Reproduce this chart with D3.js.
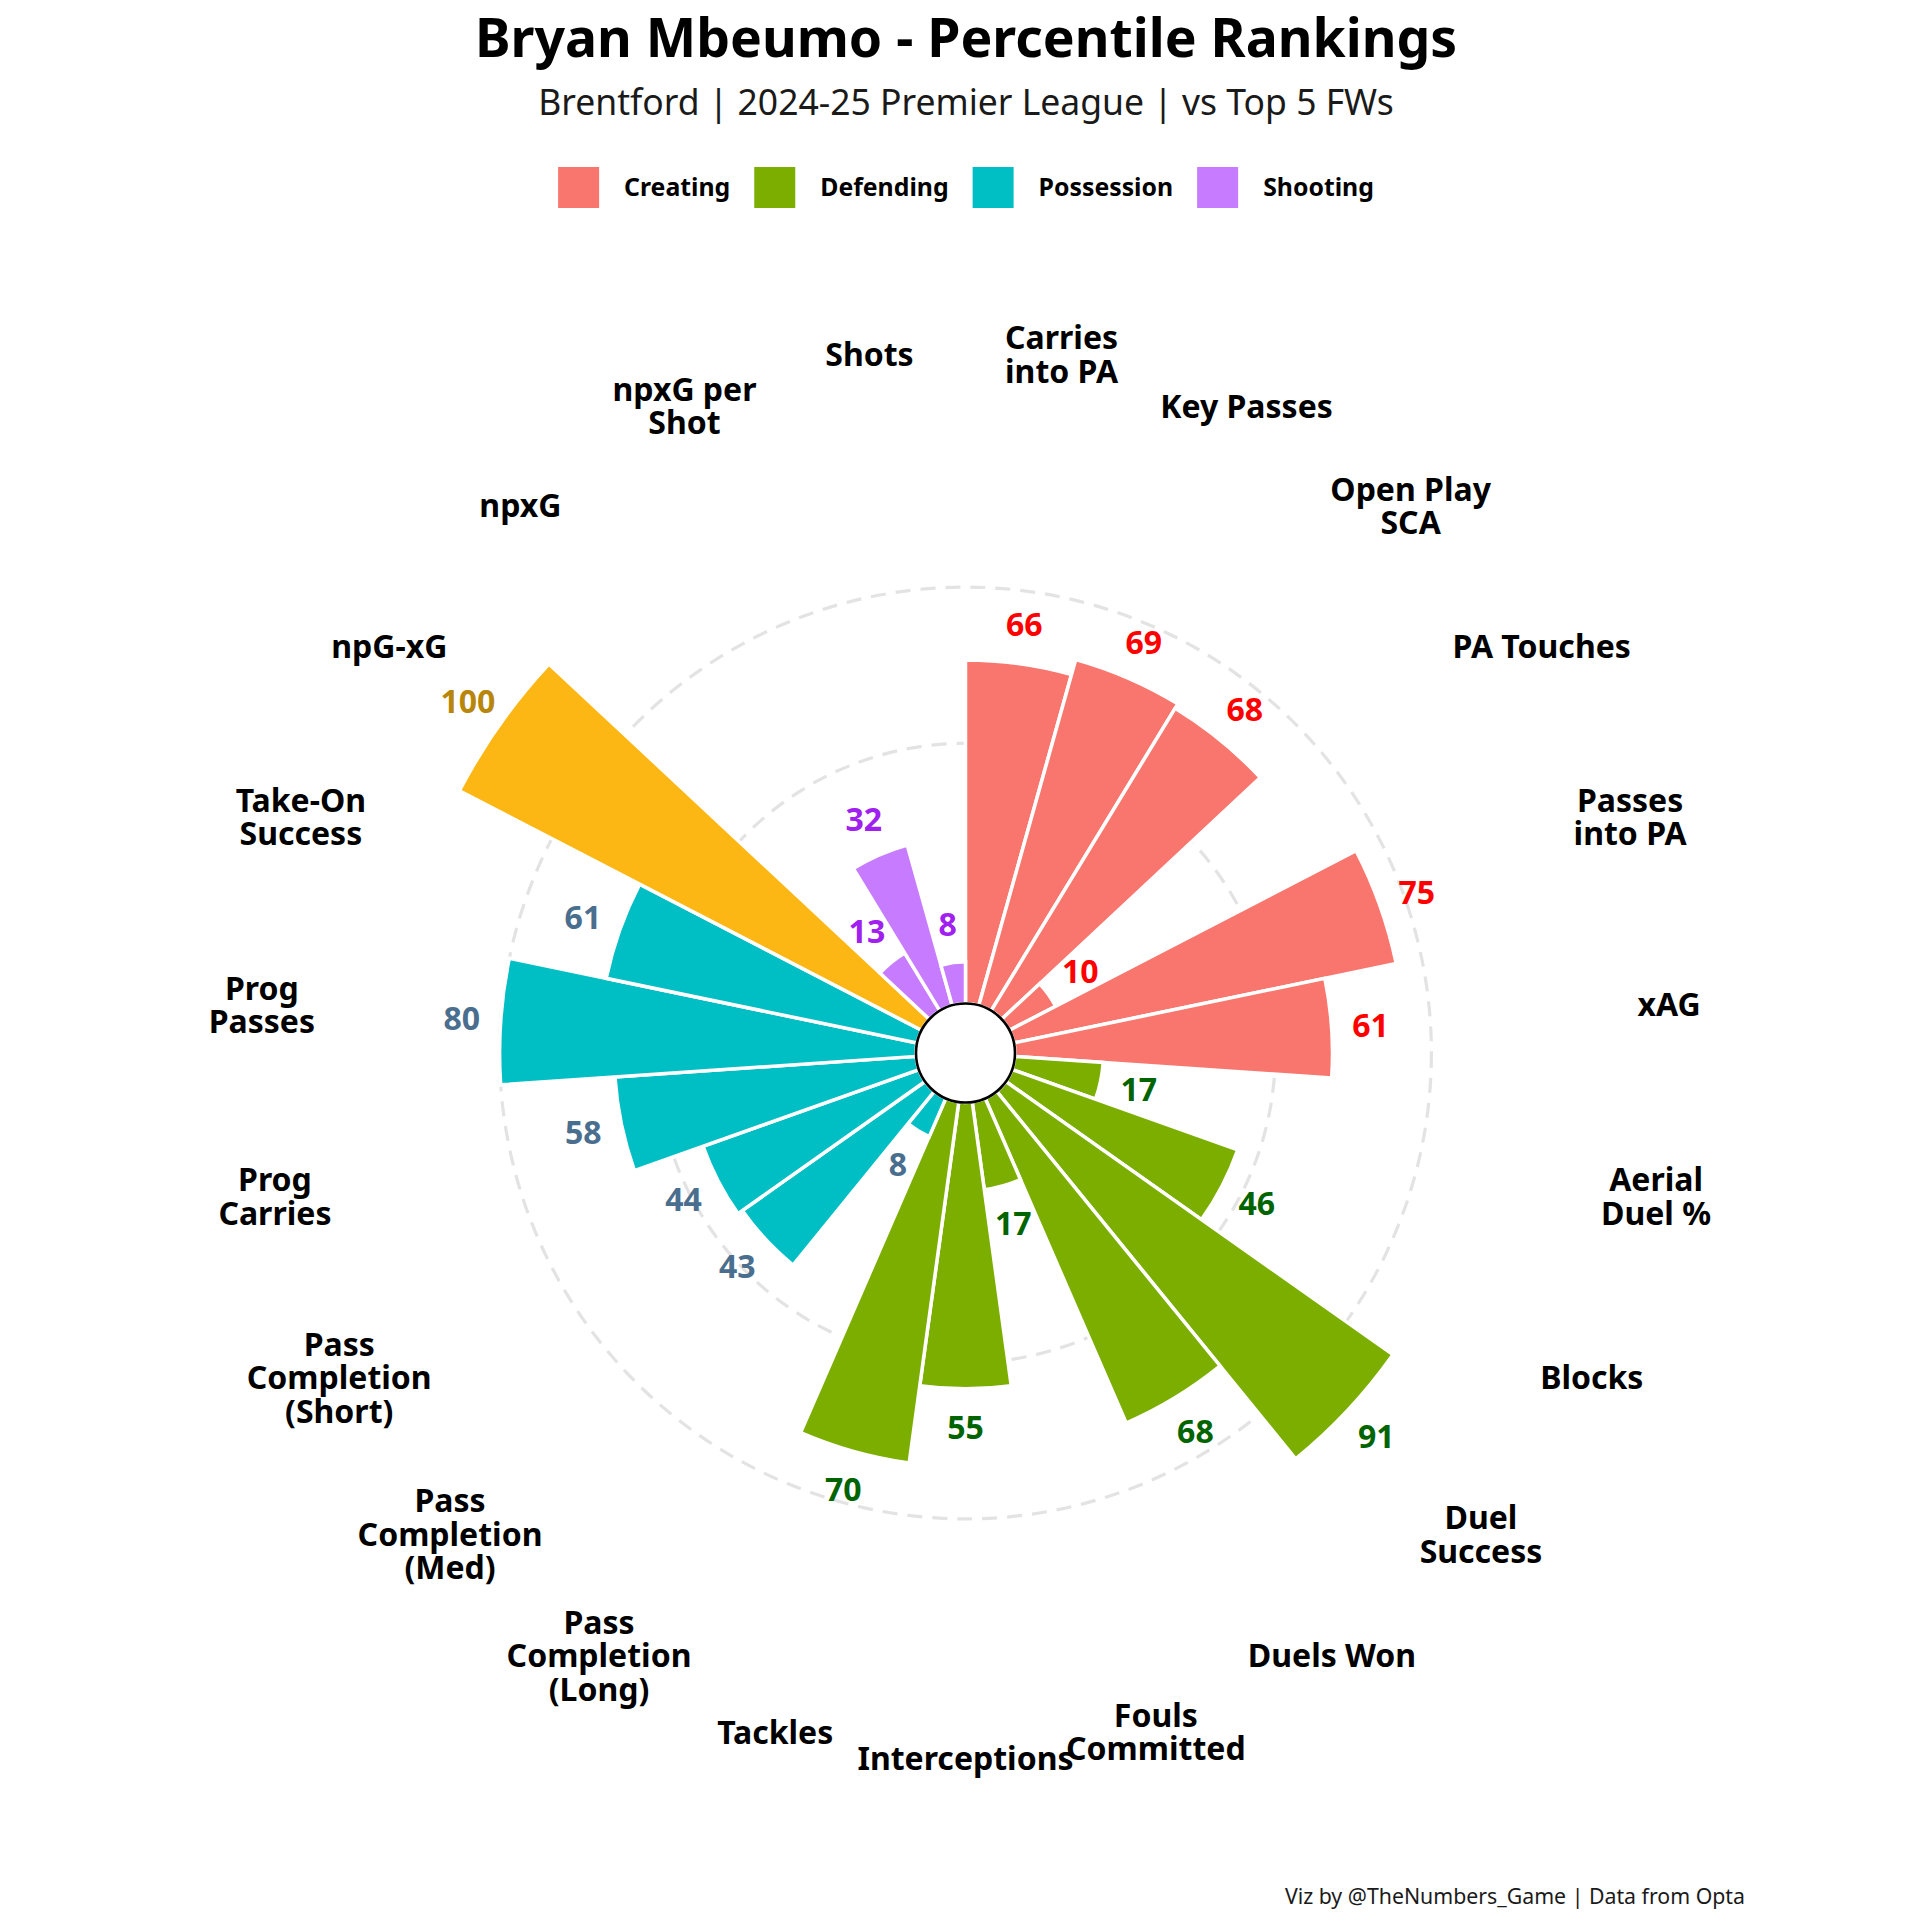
<!DOCTYPE html>
<html>
<head>
<meta charset="utf-8">
<script src="https://cdn.jsdelivr.net/npm/d3@7"></script>
<style>
  html, body { margin: 0; padding: 0; background: #fff; }
  svg { display: block; font-family: "Noto Sans", "Open Sans", sans-serif; }
</style>
</head>
<body>
<svg id="chart" width="1920" height="1920"></svg>
<script>
// ---- data (clockwise from 12 o'clock) ----
const metrics = [
  'Carries into PA', 'Key Passes', 'Open Play SCA', 'PA Touches', 'Passes into PA', 'xAG',
  'Aerial Duel %', 'Blocks', 'Duel Success', 'Duels Won', 'Fouls Committed', 'Interceptions', 'Tackles',
  'Pass Completion (Long)', 'Pass Completion (Med)', 'Pass Completion (Short)', 'Prog Carries', 'Prog Passes', 'Take-On Success',
  'npG-xG', 'npxG', 'npxG per Shot', 'Shots'
];
const percentiles = [66, 69, 68, 10, 75, 61, 17, 46, 91, 68, 17, 55, 70, 8, 43, 44, 58, 80, 61, 100, 13, 32, 8];
const groups = [
  'Creating', 'Creating', 'Creating', 'Creating', 'Creating', 'Creating',
  'Defending', 'Defending', 'Defending', 'Defending', 'Defending', 'Defending', 'Defending',
  'Possession', 'Possession', 'Possession', 'Possession', 'Possession', 'Possession',
  'Shooting', 'Shooting', 'Shooting', 'Shooting'
];
const categories = ['Creating', 'Defending', 'Possession', 'Shooting'];
const barColors = ['#F8766D', '#7CAE00', '#00BFC4', '#C77CFF'];
const textColors = ['#FF0000', '#006400', '#4A6E8E', '#A020F0'];
const gridLevels = [50, 80];

const title = 'Bryan Mbeumo - Percentile Rankings';
const subtitle = 'Brentford | 2024-25 Premier League | vs Top 5 FWs';
const caption = 'Viz by @TheNumbers_Game | Data from Opta';

// ---- layout ----
const cx = 965.5, cy = 1053;
const svg = d3.select('#chart');

const data = metrics.map((m, i) => ({ metric: m, value: percentiles[i], group: groups[i] }));

const angle = d3.scaleBand().domain(metrics).range([0, 2 * Math.PI]).padding(0);
const radius = d3.scaleLinear().domain([0, 100]).range([49.5, 570]);
const fill = d3.scaleOrdinal().domain(categories).range(barColors);
const labelColor = d3.scaleOrdinal().domain(categories).range(textColors);

// gold for a 100th percentile metric
const barFill = d => d.value === 100 ? '#FDB714' : fill(d.group);
const valFill = d => d.value === 100 ? '#B8860B' : labelColor(d.group);

const mid = d => angle(d.metric) + angle.bandwidth() / 2;
const px = (a, r) => cx + r * Math.sin(a);
const py = (a, r) => cy - r * Math.cos(a);

// crude str_wrap(width = 10)
function wrap(str, width) {
  const words = str.split(' ');
  const lines = [];
  let cur = '';
  words.forEach(w => {
    if (cur === '') cur = w;
    else if ((cur + ' ' + w).length <= width) cur += ' ' + w;
    else { lines.push(cur); cur = w; }
  });
  if (cur) lines.push(cur);
  return lines;
}

const g = svg.append('g').attr('transform', `translate(${cx},${cy})`);

// grid rings
g.selectAll('circle.grid')
  .data(gridLevels)
  .join('circle')
  .attr('class', 'grid')
  .attr('r', d => radius(d))
  .attr('fill', 'none')
  .attr('stroke', '#E3E3E3')
  .attr('stroke-width', 3.2)
  .attr('stroke-dasharray', '15,10');

// bars
const arc = d3.arc()
  .innerRadius(radius(0))
  .outerRadius(d => radius(d.value))
  .startAngle(d => angle(d.metric))
  .endAngle(d => angle(d.metric) + angle.bandwidth());

g.selectAll('path.bar')
  .data(data)
  .join('path')
  .attr('class', 'bar')
  .attr('d', arc)
  .attr('fill', barFill)
  .attr('stroke', '#fff')
  .attr('stroke-width', 3.5)
  .attr('stroke-linejoin', 'miter');

// centre hole
g.append('circle')
  .attr('r', radius(0))
  .attr('fill', '#fff')
  .attr('stroke', '#000')
  .attr('stroke-width', 2.6);

// value labels
svg.append('g').selectAll('text')
  .data(data)
  .join('text')
  .attr('x', d => px(mid(d), radius(d.value + 7.5)))
  .attr('y', d => py(mid(d), radius(d.value + 7.5)))
  .attr('dy', '0.36em')
  .attr('text-anchor', 'middle')
  .attr('font-size', 32)
  .attr('font-weight', 700)
  .attr('fill', valFill)
  .text(d => d.value);

// metric labels
const lineH = 33.5;
const lab = svg.append('g').selectAll('text')
  .data(data)
  .join('text')
  .attr('text-anchor', 'middle')
  .attr('font-size', 32)
  .attr('font-weight', 700)
  .attr('fill', '#000')
  .attr('transform', d => `translate(${px(mid(d), radius(126))},${py(mid(d), radius(126))})`);

lab.each(function(d) {
  const lines = wrap(d.metric, 10);
  const y0 = -(lines.length - 1) / 2 * lineH;
  d3.select(this).selectAll('tspan')
    .data(lines)
    .join('tspan')
    .attr('x', 0)
    .attr('y', (l, i) => y0 + i * lineH)
    .attr('dy', '0.36em')
    .text(l => l);
});

// titles
svg.append('text')
  .attr('x', 966).attr('y', 57)
  .attr('text-anchor', 'middle')
  .attr('font-size', 53.5)
  .attr('font-weight', 700)
  .text(title);

svg.append('text')
  .attr('x', 966).attr('y', 115)
  .attr('text-anchor', 'middle')
  .attr('font-size', 35.5)
  .attr('fill', '#1a1a1a')
  .text(subtitle);

// legend
const legend = svg.append('g');
const keySize = 41, keyGap = 25, itemGap = 24;
let lx = 0;
categories.forEach(c => {
  const item = legend.append('g').attr('transform', `translate(${lx},0)`);
  item.append('rect')
    .attr('width', keySize).attr('height', keySize)
    .attr('fill', fill(c));
  const t = item.append('text')
    .attr('x', keySize + keyGap)
    .attr('y', keySize / 2)
    .attr('dy', '0.36em')
    .attr('font-size', 24.8)
    .attr('font-weight', 700)
    .text(c);
  lx += keySize + keyGap + t.node().getComputedTextLength() + itemGap;
});
lx -= itemGap;
legend.attr('transform', `translate(${966 - lx / 2},167)`);

// caption
svg.append('text')
  .attr('x', 1745).attr('y', 1904)
  .attr('text-anchor', 'end')
  .attr('font-size', 21.3)
  .attr('fill', '#1a1a1a')
  .text(caption);
</script>
</body>
</html>
